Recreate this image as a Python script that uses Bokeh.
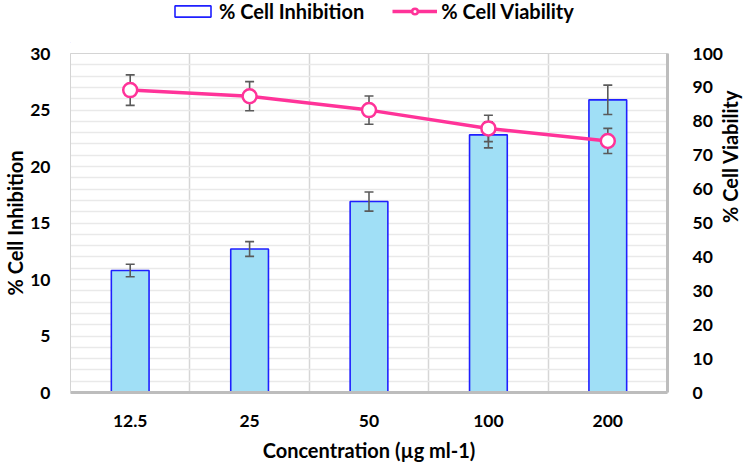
import math
import numpy as np
from bokeh.plotting import figure
from bokeh.layouts import column
from bokeh.models import (Range1d, LinearAxis, FixedTicker, SingleIntervalTicker,
                          Legend, LegendItem, ColumnDataSource)
from bokeh.embed import file_html
from bokeh.resources import INLINE

concentrations = ["12.5", "25", "50", "100", "200"]
inhibition = [10.8, 12.7, 16.9, 22.8, 25.9]
inhibition_err = [0.55, 0.65, 0.85, 1.15, 1.3]
viability = [89.2, 87.4, 83.3, 77.9, 74.2]
viability_err = [4.5, 4.3, 4.15, 3.9, 3.7]
left_ticks = [0, 5, 10, 15, 20, 25, 30]
right_ticks = [0, 10, 20, 30, 40, 50, 60, 70, 80, 90, 100]

FONT = "Lato"
PINK = "#ff3399"
ERR = "#5a5a5a"
BAR_FILL = "#a0dff6"
BAR_LINE = "#1f1fff"

xs = np.arange(len(concentrations)) + 0.5
inh = np.array(inhibition)
inh_e = np.array(inhibition_err)
via = np.array(viability)
via_e = np.array(viability_err)

src_inh = ColumnDataSource(dict(x=xs, top=inh, lo=inh - inh_e, hi=inh + inh_e))
src_via = ColumnDataSource(dict(x=xs, y=via, lo=via - via_e, hi=via + via_e))

TOP_H = 43

# ---------- legend strip ----------
lg = figure(width=749, height=TOP_H, min_border=0, x_range=Range1d(0, 1), y_range=Range1d(0, 1),
            x_axis_location=None, y_axis_location=None, output_backend="svg",
            toolbar_location=None, outline_line_color=None)
lg.xgrid.visible = False
lg.ygrid.visible = False
leg_bar = lg.vbar(x=[-10], top=[0], width=0.3, fill_color="white", line_color=BAR_LINE,
                  line_width=1.6)
leg_line = lg.line(x=[-10, -9], y=[0, 0], line_color=PINK, line_width=3.5)
leg_mark = lg.scatter(x=[-10], y=[0], marker="circle", size=12, fill_color="white",
                      line_color=PINK, line_width=2.5)
legend = Legend(items=[
    LegendItem(label="% Cell Inhibition", renderers=[leg_bar]),
    LegendItem(label="% Cell Viability", renderers=[leg_line, leg_mark]),
], orientation="horizontal", location=(100, 20),
    glyph_width=45, glyph_height=14, label_height=20, label_standoff=4, spacing=28,
    padding=0, margin=0, border_line_color=None, background_fill_alpha=0,
    label_text_font=FONT, label_text_font_style="bold", label_text_font_size="20px",
    label_text_color="black")
lg.add_layout(legend, "center")

# ---------- main chart ----------
p = figure(frame_width=597, frame_height=339, width=749, height=466 - TOP_H,
           min_border_left=60, min_border_right=70, min_border_top=10,
           min_border_bottom=72,
           x_range=Range1d(0, len(concentrations)), y_range=Range1d(0, 30),
           output_backend="svg", toolbar_location=None,
           background_fill_color="white", border_fill_color="white")
p.extra_y_ranges = {"right": Range1d(0, 100)}

p.outline_line_color = "#d4d4d4"
p.outline_line_width = 1

p.ygrid[0].ticker = SingleIntervalTicker(interval=1)
p.ygrid[0].grid_line_color = "#e9e9e9"
p.ygrid[0].grid_line_width = 1.5
p.xgrid[0].ticker = FixedTicker(ticks=list(np.arange(1, len(concentrations))))
p.xgrid[0].grid_line_color = "#d6d6d6"
p.xgrid[0].grid_line_width = 1.5

lbl_font = "17.5px"
ttl_font = "20px"
p.xaxis.ticker = FixedTicker(ticks=list(xs))
p.xaxis.major_label_overrides = {float(x): c for x, c in zip(xs, concentrations)}
p.xaxis.axis_label = "Concentration (µg ml-1)"
p.xaxis.major_label_standoff = 16
p.xaxis.axis_label_standoff = 8
p.xaxis.axis_line_color = "#bdbdbd"
p.xaxis.axis_line_width = 3

p.yaxis.ticker = FixedTicker(ticks=left_ticks)
p.yaxis.axis_label = "% Cell Inhibition"
p.yaxis.major_label_standoff = 14
p.yaxis.axis_label_standoff = 0
p.yaxis.axis_line_color = "#d4d4d4"

ax_r = LinearAxis(y_range_name="right", ticker=FixedTicker(ticks=right_ticks),
                  axis_label="% Cell Viability")
ax_r.major_label_standoff = 19
ax_r.axis_label_standoff = 4
ax_r.axis_line_color = "#bdbdbd"
ax_r.axis_line_width = 3
try:
    ax_r.axis_label_orientation = math.pi / 2
except Exception:
    pass
p.add_layout(ax_r, "right")

for ax in [p.xaxis[0], p.yaxis[0], ax_r]:
    ax.major_tick_line_color = None
    ax.minor_tick_line_color = None
    ax.major_label_text_font = FONT
    ax.major_label_text_font_style = "bold"
    ax.major_label_text_font_size = lbl_font
    ax.major_label_text_color = "black"
    ax.axis_label_text_font = FONT
    ax.axis_label_text_font_style = "bold"
    ax.axis_label_text_font_size = ttl_font
    ax.axis_label_text_color = "black"

p.vbar(x="x", top="top", bottom=0, width=0.316, source=src_inh,
       fill_color=BAR_FILL, line_color=BAR_LINE, line_width=1.6)
p.segment(x0="x", y0="lo", x1="x", y1="hi", source=src_inh, line_color=ERR, line_width=1.6)
p.scatter(x="x", y="lo", source=src_inh, marker="dash", size=9, line_color=ERR, line_width=1.6)
p.scatter(x="x", y="hi", source=src_inh, marker="dash", size=9, line_color=ERR, line_width=1.6)

p.segment(x0="x", y0="lo", x1="x", y1="hi", source=src_via, y_range_name="right",
          line_color=ERR, line_width=1.6)
p.scatter(x="x", y="lo", source=src_via, y_range_name="right", marker="dash", size=9,
          line_color=ERR, line_width=1.6)
p.scatter(x="x", y="hi", source=src_via, y_range_name="right", marker="dash", size=9,
          line_color=ERR, line_width=1.6)

p.line(x="x", y="y", source=src_via, y_range_name="right", line_color=PINK, line_width=3.5)
p.scatter(x="x", y="y", source=src_via, y_range_name="right", marker="circle", size=14,
          fill_color="white", line_color=PINK, line_width=2.5)

layout = column(lg, p, spacing=0)
open("out.html", "w").write(file_html(layout, INLINE))
